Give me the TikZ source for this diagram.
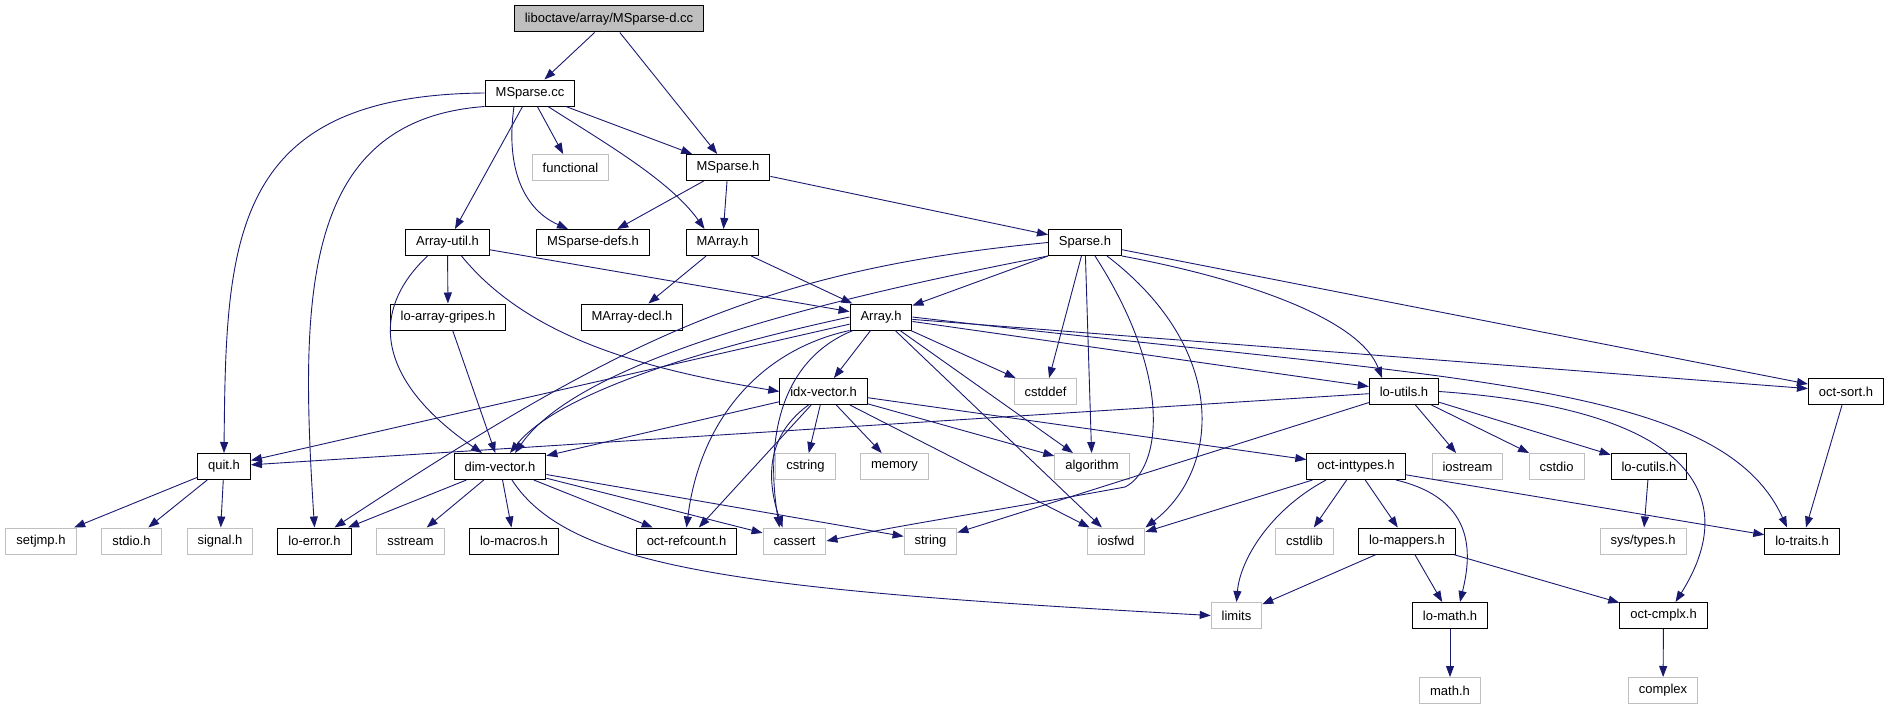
\documentclass[tikz,border=0pt]{standalone}
\usepackage{fontspec}
\setmainfont{Liberation Sans}
\usetikzlibrary{arrows.meta}
\definecolor{edgeblue}{HTML}{191970}
\definecolor{sysgray}{HTML}{BFBFBF}

\begin{document}
\begin{tikzpicture}[x=1pt, y=-1pt,
	hdr/.style={draw=black, line width=1pt, fill=white, minimum height=26pt, inner xsep=10.5pt, inner ysep=0pt, font=\fontsize{13}{15}\selectfont},
	sys/.style={hdr, draw=sysgray},
	inc/.style={draw=edgeblue, line width=0.9pt, -{Triangle[length=11pt,width=8pt]}}]
\useasboundingbox (0,0) rectangle (1889,709);

\node[hdr, fill=sysgray] (top) at (609,19) {liboctave/array/MSparse-d.cc};
\node[hdr] (msparsecc) at (530,93) {MSparse.cc};
\node[sys] (functional) at (570.5,167.5) {functional};
\node[hdr] (msparseh) at (728,167.5) {MSparse.h};
\node[hdr] (arrayutil) at (447.5,242.5) {Array-util.h};
\node[hdr] (msparsedefs) at (593,242.5) {MSparse-defs.h};
\node[hdr] (marray) at (722.5,242.5) {MArray.h};
\node[hdr] (sparse) at (1085,242.5) {Sparse.h};
\node[hdr] (gripes) at (448,317) {lo-array-gripes.h};
\node[hdr] (marraydecl) at (632,317) {MArray-decl.h};
\node[hdr] (array) at (881,317) {Array.h};
\node[hdr] (idxvector) at (823.5,391.5) {idx-vector.h};
\node[sys] (cstddef) at (1045.5,391.5) {cstddef};
\node[hdr] (loutils) at (1404,391.5) {lo-utils.h};
\node[hdr] (octsort) at (1846,391.5) {oct-sort.h};
\node[hdr] (quit) at (224,466.5) {quit.h};
\node[hdr] (dimvector) at (500,466.5) {dim-vector.h};
\node[sys] (cstring) at (805.5,466.5) {cstring};
\node[sys] (memory) at (894.5,466.5) {memory};
\node[sys] (algorithm) at (1092,466.5) {algorithm};
\node[hdr] (inttypes) at (1356,466.5) {oct-inttypes.h};
\node[sys] (iostream) at (1467.5,466.5) {iostream};
\node[sys] (cstdio) at (1556.5,466.5) {cstdio};
\node[hdr] (locutils) at (1649,466.5) {lo-cutils.h};
\node[sys] (setjmp) at (41,541) {setjmp.h};
\node[sys] (stdio) at (131.5,541) {stdio.h};
\node[sys] (signal) at (220,541) {signal.h};
\node[hdr] (loerror) at (314.5,541) {lo-error.h};
\node[sys] (sstream) at (410.5,541) {sstream};
\node[hdr] (lomacros) at (514,541) {lo-macros.h};
\node[hdr] (refcount) at (686.5,541) {oct-refcount.h};
\node[sys] (cassert) at (794.5,541) {cassert};
\node[sys] (string) at (930.5,541) {string};
\node[sys] (iosfwd) at (1116,541) {iosfwd};
\node[sys] (cstdlib) at (1304.5,541) {cstdlib};
\node[hdr] (lomappers) at (1407,541) {lo-mappers.h};
\node[sys] (systypes) at (1643,541) {sys/types.h};
\node[hdr] (lotraits) at (1802,541) {lo-traits.h};
\node[sys] (limits) at (1236.5,615.5) {limits};
\node[hdr] (lomath) at (1450,615.5) {lo-math.h};
\node[hdr] (octcmplx) at (1663.5,615.5) {oct-cmplx.h};
\node[sys] (mathh) at (1450,690.5) {math.h};
\node[sys] (complex) at (1663,690.5) {complex};

\foreach \a/\b in {top/msparsecc, top/msparseh, msparsecc/functional, msparsecc/msparseh, msparsecc/arrayutil,
	msparseh/msparsedefs, msparseh/marray, msparseh/sparse, marray/marraydecl, marray/array,
	arrayutil/gripes, arrayutil/array, gripes/dimvector, sparse/array, sparse/cstddef, sparse/algorithm, sparse/octsort,
	array/quit, array/idxvector, array/cstddef, array/algorithm, array/iosfwd, array/loutils, array/octsort,
	idxvector/dimvector, idxvector/refcount, idxvector/cstring, idxvector/memory, idxvector/algorithm, idxvector/iosfwd, idxvector/inttypes,
	quit/setjmp, quit/stdio, quit/signal,
	dimvector/loerror, dimvector/sstream, dimvector/lomacros, dimvector/refcount, dimvector/cassert, dimvector/string,
	loutils/quit, loutils/string, loutils/iostream, loutils/cstdio, loutils/locutils,
	inttypes/iosfwd, inttypes/cstdlib, inttypes/lomappers, inttypes/lotraits,
	lomappers/limits, lomappers/lomath, lomappers/octcmplx,
	locutils/systypes, octsort/lotraits, lomath/mathh, octcmplx/complex}
	\draw[inc] (\a) -- (\b);

% curved includes
\draw[inc] (msparsecc.west) .. controls (230,95) and (226,240) .. (quit.north);
\draw[inc] (msparsecc.south west) .. controls (300,120) and (300,300) .. (loerror.north);
\draw[inc] ([xshift=-16pt]msparsecc.south) .. controls (505,170) and (525,210) .. ([xshift=-25pt]msparsedefs.north);
\draw[inc] ([xshift=18pt]msparsecc.south) .. controls (600,140) and (670,180) .. ([xshift=-18pt]marray.north);
\draw[inc] ([xshift=-20pt]arrayutil.south) .. controls (360,320) and (390,390) .. ([xshift=-18pt]dimvector.north);
\draw[inc] ([xshift=14pt]arrayutil.south) .. controls (530,340) and (650,370) .. (idxvector.west);
\draw[inc] (sparse.south west) .. controls (820,300) and (580,360) .. ([xshift=15pt]dimvector.north);
\draw[inc] (sparse.west) .. controls (760,270) and (620,340) .. ([xshift=20pt]loerror.north);
\draw[inc] (sparse.south east) .. controls (1250,280) and (1360,320) .. ([xshift=-22pt]loutils.north);
\draw[inc] ([xshift=10pt]sparse.south) .. controls (1175,380) and (1160,470) .. (1125,487) .. controls (1000,510) and (900,525) .. (cassert.east);
\draw[inc] ([xshift=22pt]sparse.south) .. controls (1230,350) and (1220,470) .. (iosfwd.north east);
\draw[inc] (array.west) .. controls (720,345) and (560,390) .. ([xshift=10pt]dimvector.north);
\draw[inc] (array.south west) .. controls (760,350) and (700,420) .. (refcount.north);
\draw[inc] ([xshift=-28pt]array.south) .. controls (780,360) and (765,440) .. ([xshift=-15pt]cassert.north);
\draw[inc] ([xshift=-15pt]idxvector.south) .. controls (760,440) and (770,490) .. ([xshift=-12pt]cassert.north);
\draw[inc] (array.east) .. controls (1450,380) and (1720,380) .. ([xshift=-15pt]lotraits.north);
\draw[inc] (loutils.east) .. controls (1700,410) and (1740,500) .. ([xshift=12pt]octcmplx.north);
\draw[inc] ([xshift=12pt]dimvector.south) .. controls (570,570) and (750,590) .. (limits.west);
\draw[inc] ([xshift=-30pt]inttypes.south) .. controls (1270,510) and (1240,560) .. (limits.north);
\draw[inc] ([xshift=40pt]inttypes.south) .. controls (1480,500) and (1470,560) .. ([xshift=10pt]lomath.north);
\end{tikzpicture}
\end{document}
